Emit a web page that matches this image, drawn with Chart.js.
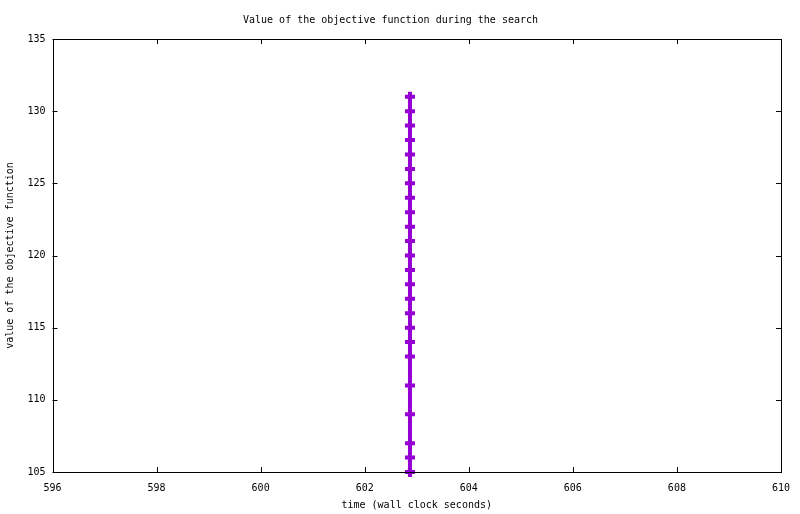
<!DOCTYPE html>
<html>
<head>
<meta charset="utf-8">
<script src="https://cdn.jsdelivr.net/npm/chart.js@4/dist/chart.umd.min.js"></script>
<style>
  html, body { margin: 0; padding: 0; background: #fff; }
  #wrap { width: 800px; height: 514px; }
</style>
</head>
<body>
<div id="wrap"><canvas id="chart"></canvas></div>
<script>
// Datos
const TIME_S = 602.87;   // todas las lecturas en el mismo instante
const OBJ_VALUES = [131, 130, 129, 128, 127, 126, 125, 124, 123, 122, 121, 120,
                    119, 118, 117, 116, 115, 114, 113, 111, 109, 107, 106, 105];
const X_MIN = 596, X_MAX = 610, X_STEP = 2;
const Y_MIN = 105, Y_MAX = 135, Y_STEP = 5;

const FONT = { family: "'DejaVu Sans Mono', monospace", size: 10, weight: "normal" };
const COLOR = "#9400d3";

const points = OBJ_VALUES.map(v => ({ x: TIME_S, y: v }));

// ---------- Marco + ticks hacia adentro (estilo gnuplot) ----------
const framePlugin = {
  id: "frame",
  afterDraw(chart) {
    const { ctx, chartArea: a, scales } = chart;
    const len = 5;
    ctx.save();
    ctx.strokeStyle = "#000";
    ctx.lineWidth = 1;
    ctx.beginPath();
    scales.x.ticks.forEach((t, i) => {
      const px = Math.round(scales.x.getPixelForTick(i)) + 0.5;
      ctx.moveTo(px, a.bottom); ctx.lineTo(px, a.bottom - len);
      ctx.moveTo(px, a.top);    ctx.lineTo(px, a.top + len);
    });
    scales.y.ticks.forEach((t, i) => {
      const py = Math.round(scales.y.getPixelForTick(i)) + 0.5;
      ctx.moveTo(a.left, py);  ctx.lineTo(a.left + len, py);
      ctx.moveTo(a.right, py); ctx.lineTo(a.right - len, py);
    });
    ctx.stroke();
    ctx.strokeRect(Math.round(a.left) + 0.5, Math.round(a.top) + 0.5,
                   Math.round(a.right - a.left), Math.round(a.bottom - a.top));
    ctx.restore();
  }
};

function start() {
  Chart.defaults.font = FONT;
  Chart.defaults.color = "#000";

  new Chart(document.getElementById("chart"), {
    type: "scatter",
    data: {
      datasets: [{
        label: "objective",
        data: points,
        showLine: true,
        borderColor: COLOR,
        backgroundColor: COLOR,
        borderWidth: 4,
        pointStyle: "cross",
        pointRadius: 5,
        pointBorderWidth: 4,
        pointHoverRadius: 5,
        clip: false
      }]
    },
    options: {
      responsive: true,
      maintainAspectRatio: false,
      animation: false,
      layout: { padding: { left: 0, right: 19, top: 0, bottom: 0 } },
      plugins: {
        legend: { display: false },
        tooltip: { enabled: false },
        title: {
          display: true,
          text: "Value of the objective function during the search",
          font: FONT,
          color: "#000",
          padding: { top: 14, bottom: 13 }
        }
      },
      scales: {
        x: {
          type: "linear",
          min: X_MIN, max: X_MAX,
          grid: { display: false, drawTicks: false },
          border: { display: false },
          ticks: { stepSize: X_STEP, padding: 10, font: FONT, color: "#000", maxRotation: 0 },
          title: { display: true, text: "time (wall clock seconds)", font: FONT, color: "#000", padding: 3 },
          afterFit(scale) { scale.height = 42; }
        },
        y: {
          type: "linear",
          min: Y_MIN, max: Y_MAX,
          grid: { display: false, drawTicks: false },
          border: { display: false },
          ticks: { stepSize: Y_STEP, padding: 7, font: FONT, color: "#000" },
          title: { display: true, text: "value of the objective function", font: FONT, color: "#000", padding: 4 },
          afterFit(scale) { scale.width = 52.5; }
        }
      }
    },
    plugins: [framePlugin]
  });
}

document.addEventListener("DOMContentLoaded", start);
</script>
</body>
</html>
